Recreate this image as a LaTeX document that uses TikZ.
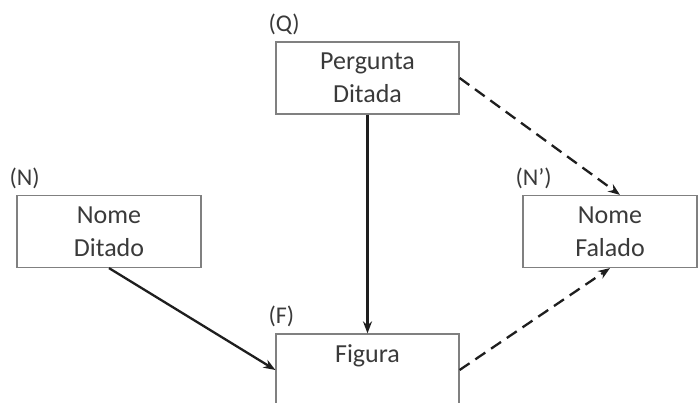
\documentclass[tikz,border=0pt]{standalone}
\usepackage{fontspec}
\setmainfont{Carlito}
\usepackage{tikz}
\usetikzlibrary{arrows.meta}
\definecolor{boxgray}{RGB}{128, 128, 128}
\definecolor{textgray}{RGB}{58, 58, 58}
\definecolor{arrowdark}{RGB}{30, 30, 30}

\tikzset{
    stagebox/.style={draw=boxgray, line width=1.2pt, text=textgray, align=center,
        minimum width=183pt, minimum height=72pt, inner sep=0pt,
        font=\fontsize{26}{33}\selectfont},
    taglabel/.style={text=textgray, font=\fontsize{24}{26}\selectfont, inner sep=0pt,
        anchor=south west, xshift=-7pt, yshift=6pt},
    solidlink/.style={draw=arrowdark, line width=2.3pt, -{Stealth[length=12pt,width=9pt]}},
    dashlink/.style={solidlink, dash pattern=on 12pt off 7pt}
}

\begin{document}
\begin{tikzpicture}[x=1pt, y=1pt]
        \useasboundingbox (0,0) rectangle (698,403);
        \clip (0,0) rectangle (698,403);

        % boxes
        \node[stagebox, label={[taglabel]north west:(Q)}] (Q) at (367.5,325) {Pergunta\\Ditada};
        \node[stagebox, minimum width=184pt, label={[taglabel]north west:(N)}] (N) at (109,171.5) {Nome\\Ditado};
        \node[stagebox, minimum width=174pt, label={[taglabel]north west:(N’)}] (Np) at (610,171.5) {Nome\\Falado};
        \node[stagebox, label={[taglabel]north west:(F)}] (F) at (367.5,33) {Figura\\\mbox{}};

        % links
        \draw[solidlink] (Q.south) -- (F.north);
        \draw[solidlink] (N.south) -- (F.west);
        \draw[dashlink] (Q.east) -- ([xshift=10pt]Np.north);
        \draw[dashlink] (F.east) -- (Np.south);
    \end{tikzpicture}
\end{document}
